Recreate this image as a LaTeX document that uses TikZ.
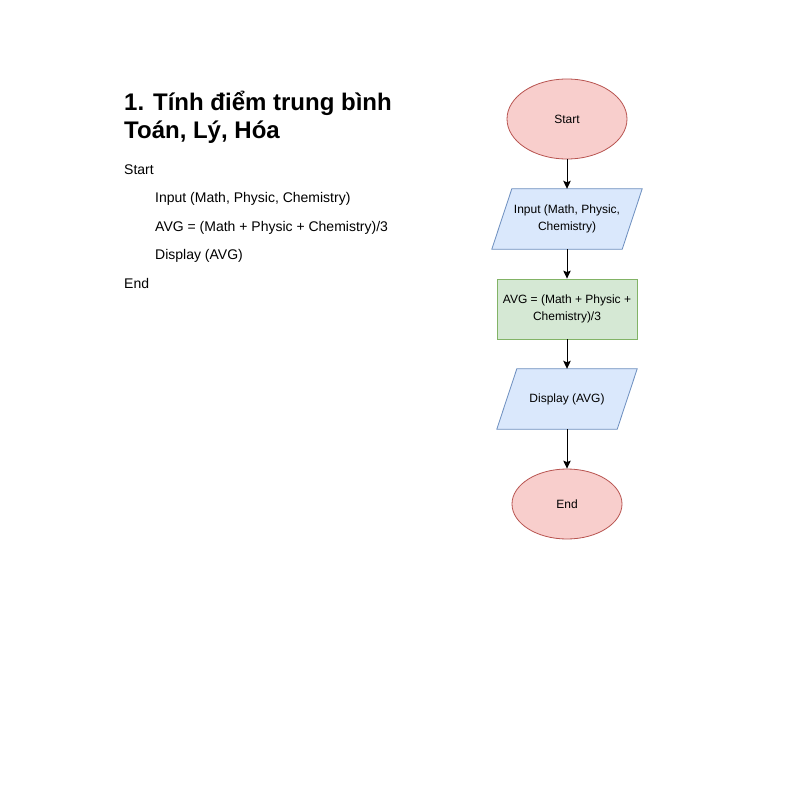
\documentclass[tikz,border=0pt]{standalone}
\usepackage{fontspec}
\setmainfont{Liberation Sans}
\usetikzlibrary{shapes.geometric,arrows.meta,backgrounds,calc}

\definecolor{termfill}{HTML}{F8CECC}
\definecolor{termline}{HTML}{B85450}
\definecolor{iofill}{HTML}{DAE8FC}
\definecolor{ioline}{HTML}{6C8EBF}
\definecolor{procfill}{HTML}{D5E8D4}
\definecolor{procline}{HTML}{82B366}

\tikzset{
  chartfont/.style={font=\fontsize{12}{16.5}\selectfont, align=center, text=black},
  terminal/.style={chartfont, ellipse, draw=termline, fill=termfill, line width=0.8pt, inner sep=0pt},
  iobox/.style={chartfont, rectangle, minimum height=60pt, inner sep=2pt},
  ioshape/.style={draw=ioline, fill=iofill, line width=0.8pt, line join=miter},
  procbox/.style={chartfont, rectangle, draw=procline, fill=procfill, line width=0.8pt,
    minimum width=140pt, minimum height=60pt, inner sep=2pt},
  flow/.style={draw=black, line width=1pt, -{Stealth[length=8pt,width=7.5pt,inset=1.5pt]}},
  heading/.style={anchor=base west, inner sep=0pt, font=\fontsize{24}{29}\selectfont\bfseries},
  bodytext/.style={anchor=base west, inner sep=0pt, font=\fontsize{14}{17}\selectfont}
}

\begin{document}
\begin{tikzpicture}[x=1pt,y=-1pt]
\useasboundingbox (0,0) rectangle (800,800);

% algorithm written out as text
\node[heading] (title1) at (124,110) {1. Tính điểm trung bình};
\node[heading] (title2) at (124,138) {Toán, Lý, Hóa};
\node[bodytext] (s1) at (124,174) {Start};
\node[bodytext] (s2) at (155,202.5) {Input (Math, Physic, Chemistry)};
\node[bodytext] (s3) at (155,231) {AVG = (Math + Physic + Chemistry)/3};
\node[bodytext] (s4) at (155,259.5) {Display (AVG)};
\node[bodytext] (s5) at (124,288) {End};

% flowchart
\node[terminal, minimum width=120pt, minimum height=80pt] (start) at (567,119) {Start};
\node[iobox, minimum width=150pt] (input) at (567,219) {Input (Math, Physic,\\Chemistry)};
\node[procbox] (avg) at (567,309) {AVG = (Math + Physic +\\Chemistry)/3};
\node[iobox, minimum width=140pt] (display) at (567,399) {Display (AVG)};
\node[terminal, minimum width=110pt, minimum height=70pt] (end) at (567,504) {End};

% parallelogram outlines of the input/output steps, behind their text
\begin{scope}[on background layer]
  \fill[white] (0,0) rectangle (800,800);
  \foreach \n in {input,display}{
    \draw[ioshape] ($(\n.north west)+(20,0)$) -- (\n.north east)
      -- ($(\n.south east)-(20,0)$) -- (\n.south west) -- cycle;
  }
\end{scope}

\draw[flow] (start.south) -- (input.north);
\draw[flow] (input.south) -- (avg.north);
\draw[flow] (avg.south) -- (display.north);
\draw[flow] (display.south) -- (end.north);
\end{tikzpicture}
\end{document}
